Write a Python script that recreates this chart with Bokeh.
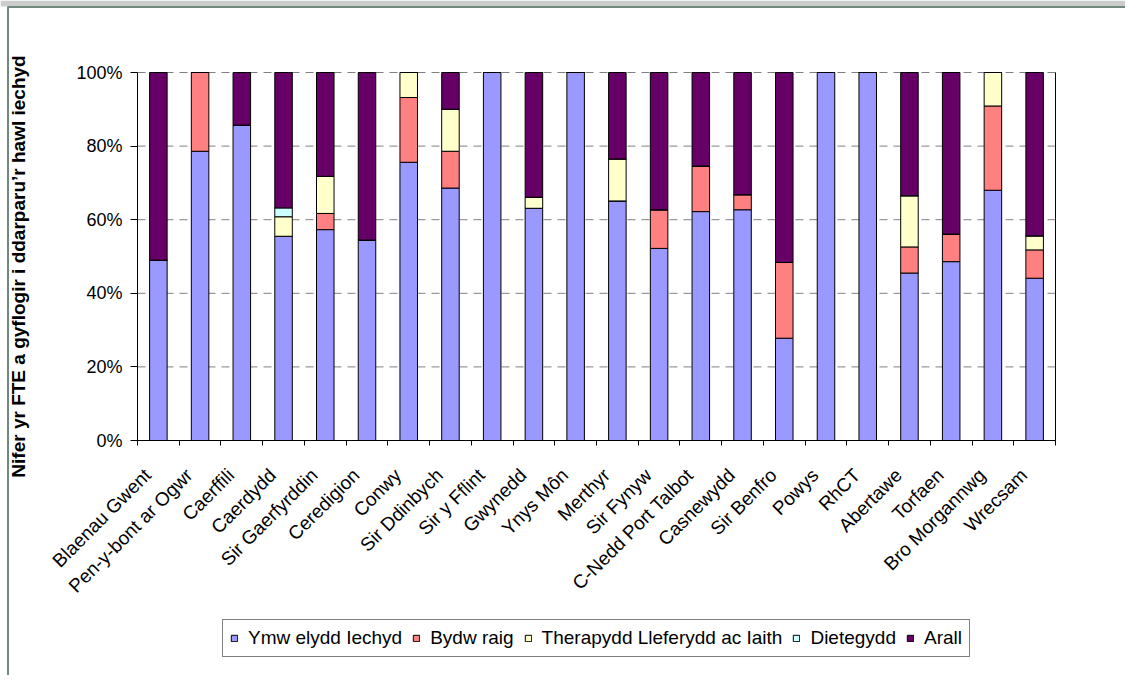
import math
from bokeh.plotting import figure
from bokeh.models import (ColumnDataSource, Range1d, FixedTicker, PrintfTickFormatter,
                          LinearAxis, Legend, LegendItem)
from bokeh.core.properties import value
from bokeh.embed import file_html
from bokeh.resources import INLINE

categories = ["Blaenau Gwent", "Pen-y-bont ar Ogwr", "Caerffili", "Caerdydd", "Sir Gaerfyrddin",
              "Ceredigion", "Conwy", "Sir Ddinbych", "Sir y Fflint", "Gwynedd", "Ynys Môn",
              "Merthyr", "Sir Fynyw", "C-Nedd Port Talbot", "Casnewydd", "Sir Benfro", "Powys",
              "RhCT", "Abertawe", "Torfaen", "Bro Morgannwg", "Wrecsam"]

ymwelydd  = [49.0, 78.6, 85.7, 55.5, 57.3, 54.5, 75.6, 68.6, 100, 63.1, 100,
             65.1, 52.2, 62.2, 62.7, 27.8, 100, 100, 45.5, 48.6, 68.0, 44.1]
bydwraig  = [0, 21.4, 0, 0, 4.4, 0, 17.6, 10.0, 0, 0, 0,
             0, 10.5, 12.4, 4.1, 20.6, 0, 0, 7.1, 7.5, 22.9, 7.7]
therapydd = [0, 0, 0, 5.3, 10.1, 0, 6.8, 11.4, 0, 3.0, 0,
             11.4, 0, 0, 0, 0, 0, 0, 13.9, 0, 9.1, 3.8]
dietegydd = [0, 0, 0, 2.4, 0, 0, 0, 0, 0, 0, 0,
             0, 0, 0, 0, 0, 0, 0, 0, 0, 0, 0]
arall     = [51.0, 0, 14.3, 36.8, 28.2, 45.5, 0, 10.0, 0, 33.9, 0,
             23.5, 37.3, 25.4, 33.2, 51.6, 0, 0, 33.5, 43.9, 0, 44.4]

series_names = ["Ymw elydd Iechyd", "Bydw raig", "Therapydd Lleferydd ac Iaith", "Dietegydd", "Arall"]
series_colors = ["#9999FF", "#FF8080", "#FFFFCC", "#CCFFFF", "#660066"]
y_ticks = [0, 20, 40, 60, 80, 100]
y_title = "Nifer yr FTE a gyflogir i ddarparu\u2019r hawl iechyd"

FONT = "Liberation Sans"
n = len(categories)

# ---- page geometry (pixels): the whole canvas is the plot frame ----
W, H = 1125, 675
PLOT_L, PLOT_R, PLOT_T, PLOT_B = 137, 1055, 72, 440
PXC = (PLOT_R - PLOT_L) / n          # pixels per category
PXU = (PLOT_B - PLOT_T) / 100.0      # pixels per percent
x_start = -PLOT_L / PXC
x_end = n + (W - PLOT_R) / PXC
y_end = 100 + PLOT_T / PXU
y_start = -(H - PLOT_B) / PXU


def px_x(px):
    return x_start + px / PXC


def px_y(py):
    return y_end - py / PXU


xpos = [i + 0.5 for i in range(n)]
keys = ["s0", "s1", "s2", "s3", "s4"]
source = ColumnDataSource(dict(x=xpos, s0=ymwelydd, s1=bydwraig, s2=therapydd,
                               s3=dietegydd, s4=arall))

p = figure(frame_width=W, frame_height=H, output_backend="svg", toolbar_location=None,
           x_range=Range1d(x_start, x_end), y_range=Range1d(y_start, y_end),
           min_border=0, background_fill_color="white", border_fill_color="white")
p.outline_line_color = None
p.xgrid.grid_line_color = None
p.ygrid.grid_line_color = None

# window decoration: grey band on top and grey-green frame edge
p.quad(left=[x_start], right=[x_end], top=[y_end], bottom=[px_y(6)],
       fill_color="#cccccc", line_color=None)
p.segment(x0=[px_x(7.5), px_x(7.5)], y0=[px_y(6), px_y(6.5)],
          x1=[px_x(7.5), x_end], y1=[y_start, px_y(6.5)],
          line_color="#6f8a7a", line_width=2)

# dashed horizontal gridlines
p.segment(x0=[0] * len(y_ticks), x1=[n] * len(y_ticks), y0=y_ticks, y1=y_ticks,
          line_color="#808080", line_width=1, line_dash="8 6")

renderers = p.vbar_stack(keys, x="x", width=0.42, fill_color=series_colors,
                         line_color="black", line_width=1, source=source)

# category labels (rotated)
lab_src = ColumnDataSource(dict(x=[v - 0.26 for v in xpos], y=[-8.55] * n, t=categories))
p.text(x="x", y="y", text="t", source=lab_src, angle=math.pi / 4,
       text_align="right", text_baseline="middle", text_font=value(FONT),
       text_font_size="19px", text_color="black")

# y axis title
p.text(x=[px_x(18)], y=[px_y(266)], text=[y_title], angle=math.pi / 2,
       text_align="center", text_baseline="middle", text_font=value(FONT),
       text_font_size="19px", text_font_style="bold", text_color="black")

# x axis at value 0
xa = p.xaxis[0]
xa.fixed_location = 0
xa.bounds = (0, n)
xa.ticker = FixedTicker(ticks=[], minor_ticks=list(range(n + 1)))
xa.major_tick_line_color = None
xa.major_label_text_font_size = "0px"
xa.minor_tick_out = 5
xa.minor_tick_in = 0
xa.minor_tick_line_color = "black"
xa.axis_line_color = "black"

# y axis at category position 0
ya = p.yaxis[0]
ya.fixed_location = 0
ya.bounds = (0, 100)
ya.ticker = FixedTicker(ticks=y_ticks)
ya.formatter = PrintfTickFormatter(format="%d%%")
ya.major_tick_out = 7
ya.major_tick_in = 0
ya.minor_tick_line_color = None
ya.axis_line_color = "black"
ya.major_label_text_font = FONT
ya.major_label_text_font_size = "18px"
ya.major_label_text_color = "black"
ya.major_label_standoff = 8

# right edge of plot area
ra = LinearAxis(ticker=FixedTicker(ticks=[]), axis_line_color="black", bounds=(0, 100),
                fixed_location=n, major_tick_line_color=None, minor_tick_line_color=None,
                major_label_text_font_size="0px")
p.add_layout(ra, "right")

legend = Legend(items=[LegendItem(label=nm, renderers=[r]) for nm, r in zip(series_names, renderers)],
                orientation="horizontal", location=(222, H - 657),
                label_text_font=FONT, label_text_font_size="19px", label_text_color="black",
                glyph_width=8, glyph_height=8, spacing=10, padding=7, margin=0,
                label_standoff=10, border_line_color="black", border_line_width=1,
                background_fill_color="white", background_fill_alpha=1.0)
p.add_layout(legend)

open("out.html", "w").write(file_html(p, INLINE))
